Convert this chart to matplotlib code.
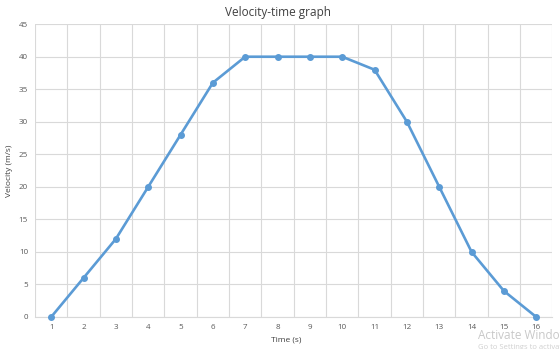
import matplotlib.pyplot as plt
import numpy as np

plt.rcParams['font.family'] = ['Open Sans', 'DejaVu Sans']

time_s = list(range(1, 17))
velocity = [0, 6, 12, 20, 28, 36, 40, 40, 40, 40, 38, 30, 20, 10, 4, 0]
y_ticks = list(range(0, 50, 5))

fig = plt.figure(figsize=(5.6, 3.49), dpi=100)
ax = fig.add_axes([0.0625, 0.0917, 0.924, 0.839])

ax.plot(time_s, velocity, color='#5B9BD5', linewidth=1.9, marker='o',
        markersize=4, zorder=3, clip_on=False)

ax.set_xlim(0.5, 16.5)
ax.set_ylim(0, 45)
ax.set_xticks(time_s)
ax.set_yticks(y_ticks)
# excel puts the vertical grid between categories
ax.set_xticks(np.arange(0.5, 17, 1), minor=True)
ax.grid(False)
ax.grid(True, which='minor', axis='x', color='#D9D9D9', linewidth=0.8)
ax.grid(True, which='major', axis='y', color='#D9D9D9', linewidth=0.8)
ax.set_axisbelow(True)
for s in ax.spines.values():
    s.set_visible(False)
ax.spines['bottom'].set_visible(True)
ax.spines['bottom'].set_color('#D9D9D9')
ax.tick_params(which='both', length=0, labelsize=5.8, labelcolor='#595959', pad=5)

fig.text(0.497, 0.965, 'Velocity-time graph', fontsize=8.5, color='#404040',
         ha='center', va='center')
ax.set_xlabel('Time (s)', fontsize=6, color='#404040', labelpad=4)
ax.xaxis.set_label_coords(0.486, -0.065)
ax.set_ylabel('Velocity (m/s)', fontsize=6, color='#404040', labelpad=4)

# windows watermark on the screenshot
fig.text(0.853, 0.03, 'Activate Windows', fontsize=8.5, color='#C8C8C8', zorder=5)
fig.text(0.853, 0.0, 'Go to Settings to activate Windows.', fontsize=5.5, color='#D0D0D0', zorder=5)

fig.savefig('out.png', dpi=100)
